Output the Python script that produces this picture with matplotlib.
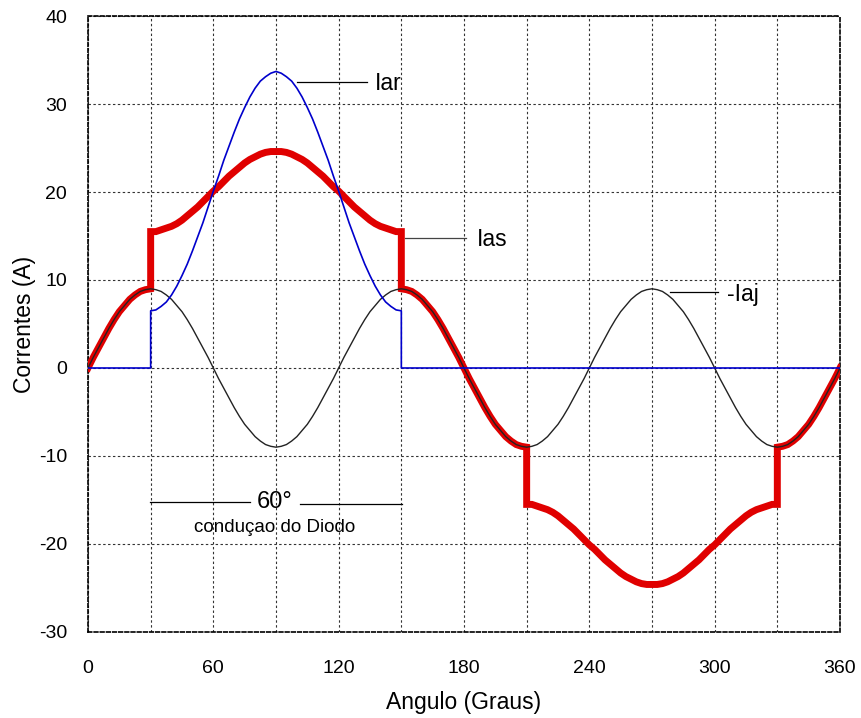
import numpy as np
import matplotlib as mpl
import matplotlib.pyplot as plt

mpl.rcParams['font.family'] = ['Liberation Sans', 'DejaVu Sans']
mpl.rcParams['axes.unicode_minus'] = False

# -Iaj, lido a cada 2.5 graus
ang_iaj = np.arange(0, 360.1, 2.5)
iaj = [0, 1.2, 2.3, 3.4, 4.5, 5.5, 6.4, 7.1, 7.8, 8.3, 8.7, 8.9, 9.0,
       8.9, 8.7, 8.3, 7.8, 7.1, 6.4, 5.5, 4.5, 3.4, 2.3, 1.2,
       0, -1.2, -2.3, -3.4, -4.5, -5.5, -6.4, -7.1, -7.8, -8.3, -8.7, -8.9, -9.0,
       -8.9, -8.7, -8.3, -7.8, -7.1, -6.4, -5.5, -4.5, -3.4, -2.3, -1.2,
       0, 1.2, 2.3, 3.4, 4.5, 5.5, 6.4, 7.1, 7.8, 8.3, 8.7, 8.9, 9.0,
       8.9, 8.7, 8.3, 7.8, 7.1, 6.4, 5.5, 4.5, 3.4, 2.3, 1.2,
       0, -1.2, -2.3, -3.4, -4.5, -5.5, -6.4, -7.1, -7.8, -8.3, -8.7, -8.9, -9.0,
       -8.9, -8.7, -8.3, -7.8, -7.1, -6.4, -5.5, -4.5, -3.4, -2.3, -1.2,
       0, 1.2, 2.3, 3.4, 4.5, 5.5, 6.4, 7.1, 7.8, 8.3, 8.7, 8.9, 9.0,
       8.9, 8.7, 8.3, 7.8, 7.1, 6.4, 5.5, 4.5, 3.4, 2.3, 1.2,
       0, -1.2, -2.3, -3.4, -4.5, -5.5, -6.4, -7.1, -7.8, -8.3, -8.7, -8.9, -9.0,
       -8.9, -8.7, -8.3, -7.8, -7.1, -6.4, -5.5, -4.5, -3.4, -2.3, -1.2,
       0]

# Ias, por trecho (saltos em 30, 150, 210 e 330 graus)
ias_0_30 = [0, 1.2, 2.3, 3.4, 4.5, 5.5, 6.4, 7.1, 7.8, 8.3, 8.7, 8.9, 9.0]
ias_30_150 = [15.5, 15.5, 15.7, 15.9, 16.1, 16.4, 16.8, 17.3, 17.8, 18.3, 18.9, 19.5,
              20.1, 20.6, 21.2, 21.8, 22.3, 22.8, 23.3, 23.7, 24.0, 24.3, 24.5, 24.6,
              24.6,
              24.6, 24.5, 24.3, 24.0, 23.7, 23.3, 22.8, 22.3, 21.8, 21.2, 20.6, 20.1,
              19.5, 18.9, 18.3, 17.8, 17.3, 16.8, 16.4, 16.1, 15.9, 15.7, 15.5, 15.5]
ias_150_210 = [9.0, 8.9, 8.7, 8.3, 7.8, 7.1, 6.4, 5.5, 4.5, 3.4, 2.3, 1.2,
               0, -1.2, -2.3, -3.4, -4.5, -5.5, -6.4, -7.1, -7.8, -8.3, -8.7, -8.9, -9.0]
ias_210_330 = [-15.5, -15.5, -15.7, -15.9, -16.1, -16.4, -16.8, -17.3, -17.8, -18.3, -18.9, -19.5,
               -20.1, -20.6, -21.2, -21.8, -22.3, -22.8, -23.3, -23.7, -24.0, -24.3, -24.5, -24.6,
               -24.6,
               -24.6, -24.5, -24.3, -24.0, -23.7, -23.3, -22.8, -22.3, -21.8, -21.2, -20.6, -20.1,
               -19.5, -18.9, -18.3, -17.8, -17.3, -16.8, -16.4, -16.1, -15.9, -15.7, -15.5, -15.5]
ias_330_360 = [-9.0, -8.9, -8.7, -8.3, -7.8, -7.1, -6.4, -5.5, -4.5, -3.4, -2.3, -1.2, 0]

# Iar, conduz so entre 30 e 150 graus
iar_30_150 = [6.5, 6.6, 7.0, 7.5, 8.3, 9.3, 10.5, 11.8, 13.3, 14.9, 16.5, 18.3,
              20.1, 21.8, 23.6, 25.2, 26.8, 28.3, 29.6, 30.8, 31.8, 32.6, 33.1, 33.5,
              33.7,
              33.5, 33.1, 32.6, 31.8, 30.8, 29.6, 28.3, 26.8, 25.2, 23.6, 21.8, 20.1,
              18.3, 16.5, 14.9, 13.3, 11.8, 10.5, 9.3, 8.3, 7.5, 7.0, 6.6, 6.5]

x_ticks = [0, 60, 120, 180, 240, 300, 360]
y_ticks = [-30, -20, -10, 0, 10, 20, 30, 40]


def trecho(a, b):
  return np.arange(a, b + 0.1, 2.5)


ang_ias = np.concatenate([trecho(0, 30), trecho(30, 150), trecho(150, 210),
                          trecho(210, 330), trecho(330, 360)])
ias = ias_0_30 + ias_30_150 + ias_150_210 + ias_210_330 + ias_330_360

ang_iar = np.concatenate([[0, 30], trecho(30, 150), [150, 360]])
iar = [0, 0] + iar_30_150 + [0, 0]

fig = plt.figure(figsize=(8.61, 7.18), dpi=100)
ax = fig.add_axes([0.1022, 0.1198, 0.8734, 0.8579])

ax.plot(ang_ias, ias, color="#e00000", lw=5.0, solid_joinstyle="miter", zorder=3)
ax.plot(ang_iaj, iaj, color="#222222", lw=1.0, zorder=4)
ax.plot(ang_iar, iar, color="#0000cc", lw=1.2, zorder=5)

# Rotulos das curvas
ax.plot([100, 133.6], [32.5, 32.5], color="black", lw=0.9)
ax.text(137.4, 32.3, "Iar", fontsize=16.5, va="center", ha="left")
ax.plot([151.7, 181], [14.8, 14.8], color="#444444", lw=0.9)
ax.text(186.2, 14.6, "Ias", fontsize=16.5, va="center", ha="left")
ax.plot([278.6, 301.6], [8.6, 8.6], color="black", lw=0.9)
ax.text(306.0, 8.3, "-Iaj", fontsize=16.5, va="center", ha="left")

ax.plot([29.7, 77.5], [-15.2, -15.2], color="black", lw=0.9)
ax.plot([101.5, 150.3], [-15.45, -15.45], color="black", lw=0.9)
ax.text(89.5, -15.2, "60°", fontsize=17, va="center", ha="center")
ax.text(89.5, -18.1, "conduçao do Diodo", fontsize=13.5, va="center", ha="center")

ax.set_xlim(0, 360)
ax.set_ylim(-30, 40)
ax.set_xticks(x_ticks)
ax.set_xticks([30, 90, 150, 210, 270, 330], minor=True)
ax.set_yticks(y_ticks)
ax.tick_params(which="both", length=0)
ax.tick_params(axis="x", pad=20, labelsize=14)
ax.tick_params(axis="y", pad=15, labelsize=14)
ax.grid(True, which="both", color="#333333", linestyle=(0, (2.2, 2.2)), lw=0.8)

for s in ax.spines.values():
  s.set_linestyle((0, (2.2, 1.5)))
  s.set_linewidth(1.2)

ax.set_xlabel("Angulo (Graus)", fontsize=16.5, va="center")
ax.set_ylabel("Correntes (A)", fontsize=16.5, va="center")
ax.xaxis.set_label_coords(0.5, -0.115)
ax.yaxis.set_label_coords(-0.084, 0.5)

fig.savefig("out.png", dpi=100)
